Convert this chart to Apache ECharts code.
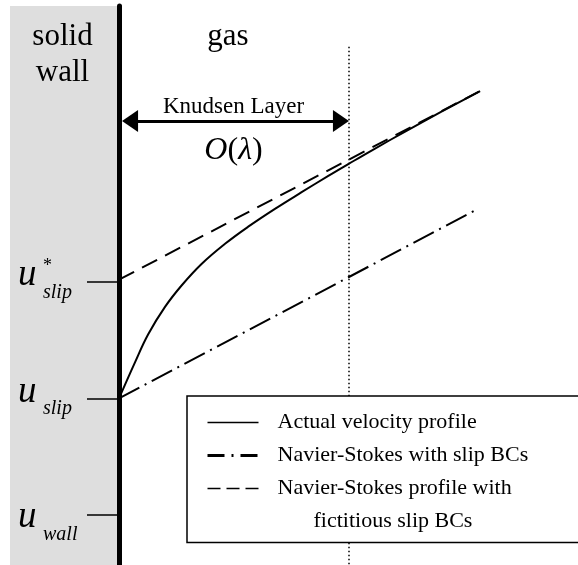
<!DOCTYPE html>
<html>
<head>
<meta charset="utf-8">
<script src="https://cdn.jsdelivr.net/npm/echarts@6/dist/echarts.min.js"></script>
<style>
html,body{margin:0;padding:0;background:#fff;}
#c{width:578px;height:565px;}
</style>
</head>
<body>
<div id="c"></div>
<script>
// distance from the wall (x = 0 wall, x = 1 edge of Knudsen layer) and velocity (u_wall = 0)
const actualX = [0, 0.07, 0.127, 0.20, 0.273, 0.36, 0.461, 0.562, 0.678, 0.794, 0.91, 1.0, 1.10, 1.25, 1.40, 1.57];
const actualU = [1.0, 1.312, 1.551, 1.786, 1.972, 2.157, 2.328, 2.475, 2.628, 2.771, 2.911, 3.016, 3.131, 3.298, 3.46, 3.64];
const nsSlipX = [0, 1.552];
const nsSlipU = [1.0, 2.619];
const nsFictX = [0, 1.565];
const nsFictU = [2.02, 3.635];
const seriesNames = ['Actual velocity profile', 'Navier-Stokes with slip BCs', 'Navier-Stokes profile with fictitious slip BCs'];
const tickValues = [0, 1, 2];
const tickMain = ['u', 'u', 'u'];
const tickSub = ['wall', 'slip', 'slip'];
const tickSup = ['', '', '*'];
const knudsenEdgeX = 1;
const knudsenArrowX = [0.048, 0.965];
const knudsenArrowU = 3.383;
const dottedTopU = 4.02;

const SERIF = '"Liberation Serif", "Times New Roman", serif';
const zip = (xs, ys) => xs.map((x, i) => [x, ys[i]]);

const chart = echarts.init(document.getElementById('c'), null, {renderer: 'canvas'});

const labelRich = {
  u0: {fontFamily: SERIF, fontStyle: 'italic', fontSize: 37, lineHeight: 20, width: 25, padding: [4, 0, 0, 0], verticalAlign: 'middle', color: '#000'},
  s0: {fontFamily: SERIF, fontStyle: 'italic', fontSize: 20, lineHeight: 20, padding: [40, 0, 0, 0], verticalAlign: 'middle', color: '#000'},
  u1: {fontFamily: SERIF, fontStyle: 'italic', fontSize: 37, lineHeight: 20, width: 25, padding: [0, 0, 12, 0], verticalAlign: 'middle', color: '#000'},
  s1: {fontFamily: SERIF, fontStyle: 'italic', fontSize: 20, lineHeight: 20, padding: [20, 0, 0, 0], verticalAlign: 'middle', color: '#000'},
  u2: {fontFamily: SERIF, fontStyle: 'italic', fontSize: 37, lineHeight: 20, width: 25, padding: [0, 0, 13, 0], verticalAlign: 'middle', color: '#000'},
  p2: {fontFamily: SERIF, fontSize: 18, lineHeight: 18, width: 0, padding: [0, 0, 31, 0], verticalAlign: 'middle', color: '#000'},
  s2: {fontFamily: SERIF, fontStyle: 'italic', fontSize: 20, lineHeight: 20, padding: [22, 0, 0, 0], verticalAlign: 'middle', color: '#000'}
};

const option = {
  animation: false,
  backgroundColor: '#fff',
  grid: {left: 119, right: 22, top: 6, bottom: 0, outerBoundsMode: 'none', containLabel: false},
  xAxis: {type: 'value', min: 0, max: 1.9, show: false},
  yAxis: {
    type: 'value', min: -0.43, max: 4.37, z: 10,
    splitLine: {show: false},
    axisLine: {show: true, lineStyle: {color: '#000', width: 5}},
    axisTick: {show: true, inside: false, length: 32, customValues: tickValues, lineStyle: {color: '#000', width: 1.5}},
    axisLabel: {
      show: true, customValues: tickValues, align: 'left', margin: 101,
      formatter: function (v) {
        const i = tickValues.indexOf(Math.round(v));
        if (i < 0) return '';
        let s = '{u' + i + '|' + tickMain[i] + '}';
        if (tickSup[i]) s += '{p' + i + '|' + tickSup[i] + '}';
        s += '{s' + i + '|' + tickSub[i] + '}';
        return s;
      },
      rich: labelRich
    }
  },
  legend: {
    orient: 'vertical', left: 187, top: 396, z: 20,
    selectedMode: false,
    backgroundColor: '#fff', borderColor: '#000', borderWidth: 1.5,
    padding: [10, 70, 10, 19],
    itemWidth: 51, itemHeight: 14, itemGap: 0,
    itemStyle: {opacity: 0},
    textStyle: {
      fontFamily: SERIF, fontSize: 22, lineHeight: 33, color: '#000', padding: [0, 0, 0, 14],
      rich: {f: {fontFamily: SERIF, fontSize: 22, lineHeight: 33, color: '#000', padding: [0, 0, 0, 36]}}
    },
    formatter: function (name) {
      if (name === seriesNames[2]) return 'Navier-Stokes profile with\n{f|fictitious slip BCs}';
      return name;
    },
    data: [
      {name: seriesNames[0], lineStyle: {width: 1.5}},
      {name: seriesNames[1], lineStyle: {width: 3, type: [17, 7, 2, 7]}},
      {name: seriesNames[2], lineStyle: {width: 1.5, type: [13, 6]}, textStyle: {padding: [0, 0, -33, 14]}}
    ]
  },
  graphic: [
    {type: 'rect', z: -10, shape: {x: 10, y: 6, width: 107, height: 559}, style: {fill: '#dedede'}},
    {type: 'text', x: 62.5, y: 36.5, style: {text: 'solid', fontFamily: SERIF, fontSize: 31, fill: '#000', align: 'center', verticalAlign: 'middle'}},
    {type: 'text', x: 62.5, y: 72.5, style: {text: 'wall', fontFamily: SERIF, fontSize: 31, fill: '#000', align: 'center', verticalAlign: 'middle'}},
    {type: 'text', x: 228, y: 36.5, style: {text: 'gas', fontFamily: SERIF, fontSize: 31, fill: '#000', align: 'center', verticalAlign: 'middle'}},
    {type: 'text', x: 233.5, y: 106.5, style: {text: 'Knudsen Layer', fontFamily: SERIF, fontSize: 23, fill: '#000', align: 'center', verticalAlign: 'middle'}},
    {type: 'text', x: 233.5, y: 150.5, style: {
      text: '{i|O}{n|(}{i|λ}{n|)}', align: 'center', verticalAlign: 'middle',
      rich: {
        i: {fontFamily: SERIF, fontStyle: 'italic', fontSize: 32, fill: '#000', color: '#000'},
        n: {fontFamily: SERIF, fontSize: 32, fill: '#000', color: '#000'}
      }
    }}
  ],
  series: [
    {
      name: seriesNames[2], type: 'line', symbol: 'none', z: 2,
      data: zip(nsFictX, nsFictU),
      lineStyle: {color: '#000', width: 2, type: [17, 9]},
      itemStyle: {color: '#000'},
      markLine: {
        z: 1,
        silent: true, animation: false, label: {show: false},
        data: [
          [{coord: [knudsenEdgeX, dottedTopU], symbol: 'none', lineStyle: {color: '#000', width: 1.5, type: [1.5, 2.5]}},
           {coord: [knudsenEdgeX, -0.43], symbol: 'none'}],
          [{coord: [knudsenArrowX[0], knudsenArrowU], symbol: 'triangle', symbolSize: [22, 16], lineStyle: {color: '#000', width: 3, type: 'solid'}},
           {coord: [knudsenArrowX[1], knudsenArrowU], symbol: 'triangle', symbolSize: [22, 16]}]
        ],
        itemStyle: {color: '#000'}
      }
    },
    {
      name: seriesNames[1], type: 'line', symbol: 'none', z: 3,
      data: zip(nsSlipX, nsSlipU),
      lineStyle: {color: '#000', width: 2, type: [23, 6, 2, 6]},
      itemStyle: {color: '#000'}
    },
    {
      name: seriesNames[0], type: 'line', symbol: 'none', z: 4,
      smooth: 0.4,
      data: zip(actualX, actualU),
      lineStyle: {color: '#000', width: 2, type: 'solid'},
      itemStyle: {color: '#000'}
    }
  ]
};
chart.setOption(option);
</script>
</body>
</html>
